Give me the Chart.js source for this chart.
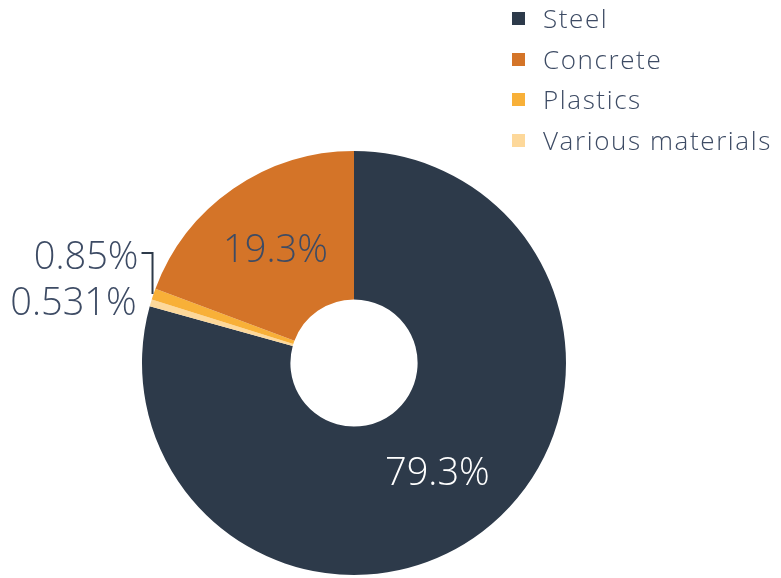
<!DOCTYPE html>
<html>
<head>
<meta charset="utf-8">
<script src="https://cdn.jsdelivr.net/npm/chart.js@4/dist/chart.umd.min.js"></script>
<style>
  html, body { margin: 0; padding: 0; background: #fff; }
  #wrap { position: relative; width: 781px; height: 578px; }
  #legend { position: absolute; left: 512px; top: 0; font-family: "Open Sans", sans-serif; font-weight: 300; }
  .item { position: absolute; left: 0; height: 40px; white-space: nowrap; color: #3d4b64; font-size: 26px; line-height: 40px; letter-spacing: 1.6px; }
  .item span.box { position: absolute; left: 0; top: 13px; width: 13px; height: 13px; }
  .item span.txt { position: absolute; left: 31px; top: -1px; }
</style>
</head>
<body>
<div id="wrap">
  <canvas id="chart" width="781" height="578"></canvas>
  <div id="legend"></div>
</div>
<script>
// legend order
const categories = ['Steel', 'Concrete', 'Plastics', 'Various materials'];
const values = [79.3, 19.3, 0.85, 0.531];
const valueLabels = ['79.3%', '19.3%', '0.85%', '0.531%'];
const colors = ['#2d3a4a', '#d47428', '#f8b038', '#fdd89a'];
// slices go clockwise from the top in this order
const drawOrder = [0, 3, 2, 1];

const textDark = '#3d4b64';

// legend
const legend = document.getElementById('legend');
categories.forEach((c, i) => {
  const d = document.createElement('div');
  d.className = 'item';
  d.style.top = (-1 + i * 40.5) + 'px';
  d.innerHTML = '<span class="box" style="background:' + colors[i] + '"></span><span class="txt">' + c + '</span>';
  legend.appendChild(d);
});

const sliceLabels = {
  id: 'sliceLabels',
  afterDatasetsDraw(chart) {
    const ctx = chart.ctx;
    const meta = chart.getDatasetMeta(0);
    ctx.save();
    ctx.font = '300 38px "Open Sans", sans-serif';
    ctx.textBaseline = 'middle';
    meta.data.forEach((arc, j) => {
      const i = drawOrder[j];
      const p = arc.getProps(['x', 'y', 'startAngle', 'endAngle', 'outerRadius'], true);
      const mid = (p.startAngle + p.endAngle) / 2;
      const ox = p.x + Math.cos(mid) * p.outerRadius;
      const oy = p.y + Math.sin(mid) * p.outerRadius;
      if (values[i] > 5) {
        const c = arc.tooltipPosition(true);
        ctx.textAlign = 'center';
        ctx.fillStyle = i === 0 ? '#ffffff' : textDark;
        ctx.fillText(valueLabels[i], c.x, c.y + 1);
      } else if (i === 3) {
        ctx.textAlign = 'right';
        ctx.fillStyle = textDark;
        ctx.fillText(valueLabels[i], ox - 14, oy + 1);
      } else {
        // leader line up and out to the left
        const topY = oy - 41;
        ctx.strokeStyle = '#2d3a4a';
        ctx.lineWidth = 2;
        ctx.beginPath();
        ctx.moveTo(ox - 1, oy);
        ctx.lineTo(ox - 1, topY);
        ctx.lineTo(ox - 12, topY);
        ctx.stroke();
        ctx.textAlign = 'right';
        ctx.fillStyle = textDark;
        ctx.fillText(valueLabels[i], ox - 15, topY + 5);
      }
    });
    ctx.restore();
  }
};

new Chart(document.getElementById('chart'), {
  type: 'doughnut',
  data: {
    labels: drawOrder.map(i => categories[i]),
    datasets: [{
      data: drawOrder.map(i => values[i]),
      backgroundColor: drawOrder.map(i => colors[i]),
      borderWidth: 0,
      hoverOffset: 0
    }]
  },
  options: {
    responsive: false,
    animation: false,
    cutout: '30%',
    layout: { padding: { left: 142, right: 215, top: 151, bottom: 3 } },
    plugins: {
      legend: { display: false },
      tooltip: { enabled: false }
    }
  },
  plugins: [sliceLabels]
});
</script>
</body>
</html>
